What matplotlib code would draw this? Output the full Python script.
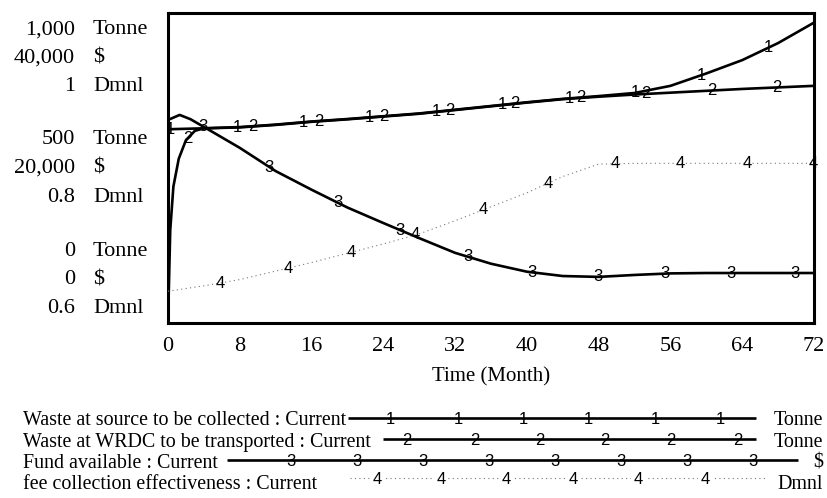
import numpy as np
import matplotlib
matplotlib.use("Agg")
import matplotlib.pyplot as plt

# values (Time in months)
t_src = [0, 4, 8, 12, 16, 20, 24, 28, 32, 36, 40, 44, 48, 52, 56, 60, 64, 68, 72]
waste_source = [625, 628, 632, 640, 650, 658, 667, 676, 688, 700, 712, 723, 732, 742, 765, 805, 848, 903, 969]

t_wrdc = [0, 0.25, 0.6, 1.2, 2, 3, 4, 8, 12, 16, 20, 24, 28, 32, 36, 40, 44, 48, 52, 56, 60, 64, 68, 72]
waste_wrdc = [0, 300, 440, 530, 590, 620, 628, 631, 639, 649, 657, 666, 675, 687, 699, 711, 722, 730, 737, 743, 749, 755, 760, 765]

t_fund = [0, 1.3, 2.5, 4, 8, 12, 16, 20, 24, 28, 32, 36, 40, 44, 48, 52, 56, 60, 64, 68, 72]
fund = [26200, 26850, 26300, 25300, 22600, 19600, 17200, 14900, 12900, 10950, 9050, 7650, 6620, 6060, 5950, 6200, 6400, 6450, 6450, 6450, 6450]

t_fee = [0, 4, 8, 12, 16, 20, 24, 28, 32, 36, 40, 44, 48, 52, 56, 60, 64, 68, 72]
fee_eff = [0.641, 0.648, 0.656, 0.667, 0.678, 0.690, 0.702, 0.715, 0.732, 0.750, 0.768, 0.789, 0.805, 0.806, 0.806, 0.806, 0.806, 0.806, 0.806]

# where vensim put the curve numbers
lab_src = [0.3, 7.7, 15.1, 22.5, 29.9, 37.3, 44.7, 52.1, 59.5, 66.9]
lab_wrdc = [2.2, 9.5, 16.8, 24.1, 31.4, 38.7, 46.0, 53.3, 60.6, 67.9]
lab_fund = [3.9, 11.3, 18.9, 25.9, 33.4, 40.6, 47.9, 55.4, 62.7, 69.9]
lab_fee = [5.8, 13.4, 20.4, 27.6, 35.1, 42.4, 49.9, 57.1, 64.6, 71.9]

legend_names = ["Waste at source to be collected : Current",
                "Waste at WRDC to be transported : Current",
                "Fund available : Current",
                "fee collection effectiveness : Current"]
legend_units = ["Tonne", "Tonne", "$", "Dmnl"]

ytick_rows = [("1,000", "Tonne"), ("40,000", "$"), ("1", "Dmnl"),
              ("500", "Tonne"), ("20,000", "$"), ("0.8", "Dmnl"),
              ("0", "Tonne"), ("0", "$"), ("0.6", "Dmnl")]

SERIF = "Liberation Serif"
SANS = "Liberation Sans"
W, H = 828, 498

fig = plt.figure(figsize=(W / 100, H / 100), dpi=100)
ax = fig.add_axes([168 / W, 1 - 323 / H, (814 - 168) / W, (323 - 13) / H])
ax_d = ax.twinx()
ax_m = ax.twinx()
ax_d.axis("off")
ax_m.axis("off")

ax.set_ylim(0, 1000)
ax_d.set_ylim(0, 40000)
ax_m.set_ylim(0.6, 1.0)
for a in (ax, ax_d, ax_m):
    a.set_xlim(0, 72)

lw = 1.9
ax.plot(t_src, waste_source, color="black", lw=lw, solid_capstyle="butt")
ax.plot(t_wrdc, waste_wrdc, color="black", lw=lw, solid_capstyle="butt")
ax_d.plot(t_fund, fund, color="black", lw=lw)
ax_m.plot(t_fee, fee_eff, color="#777777", lw=0.8, ls=(0, (1, 3)))

def put_numbers(a, tt, xs, ys, s):
    for x in tt:
        a.text(x, np.interp(x, xs, ys), s, ha="center", va="center",
               fontsize=12, family=SANS, color="black", clip_on=False)

put_numbers(ax, lab_src, t_src, waste_source, "1")
put_numbers(ax, lab_wrdc, t_wrdc, waste_wrdc, "2")
put_numbers(ax_d, lab_fund, t_fund, fund, "3")
put_numbers(ax_m, lab_fee, t_fee, fee_eff, "4")

for sp in ax.spines.values():
    sp.set_linewidth(2.2)
ax.set_yticks([])
ax.set_xticks(range(0, 73, 8))
ax.tick_params(axis="x", length=0, pad=10)
for lbl in ax.get_xticklabels():
    lbl.set_fontfamily(SERIF)
    lbl.set_fontsize(16)
ax.set_xlabel("Time (Month)", fontsize=15, family=SERIF, labelpad=8)

# stacked unit labels on the left
row_y = [30, 58, 86, 140, 168, 197, 251, 280, 308]
for (num, unit), y in zip(ytick_rows, row_y):
    fig.text(75 / W, 1 - y / H, num, ha="right", va="center", fontsize=16, family=SERIF)
    fig.text(93 / W, 1 - y / H, unit, ha="left", va="center", fontsize=16, family=SERIF)

# legend block, drawn in pixel units
lg = fig.add_axes([0, 0, 1, 1 - 370 / H])
lg.set_xlim(0, W)
lg.set_ylim(H, 370)
lg.axis("off")

text_y = [420, 442, 463, 484]
line_y = [418, 439, 460, 478]
line_x = [(348, 756), (383, 756), (227, 798), (350, 765)]
num_x = [[390, 458, 523, 588, 655, 720],
         [407, 475, 540, 605, 671, 738],
         [291, 357, 423, 489, 555, 621, 687, 753],
         [377, 441, 506, 573, 638, 705]]
for i in range(4):
    lg.text(23, text_y[i], legend_names[i], ha="left", va="center", fontsize=14.4, family=SERIF)
    lg.text(823, text_y[i], legend_units[i], ha="right", va="center", fontsize=14.4, family=SERIF)
    if i < 3:
        lg.plot(line_x[i], [line_y[i]] * 2, color="black", lw=lw, solid_capstyle="butt")
        for x in num_x[i]:
            lg.text(x, line_y[i] + 1, str(i + 1), ha="center", va="center", fontsize=12, family=SANS)
    else:
        lg.plot(line_x[i], [line_y[i]] * 2, color="#777777", lw=0.8, ls=(0, (1, 3)))
        for x in num_x[i]:
            lg.text(x, line_y[i] + 1, "4", ha="center", va="center", fontsize=12, family=SANS,
                    bbox=dict(facecolor="white", edgecolor="none", pad=1.5))

fig.savefig("out.png", dpi=100)
